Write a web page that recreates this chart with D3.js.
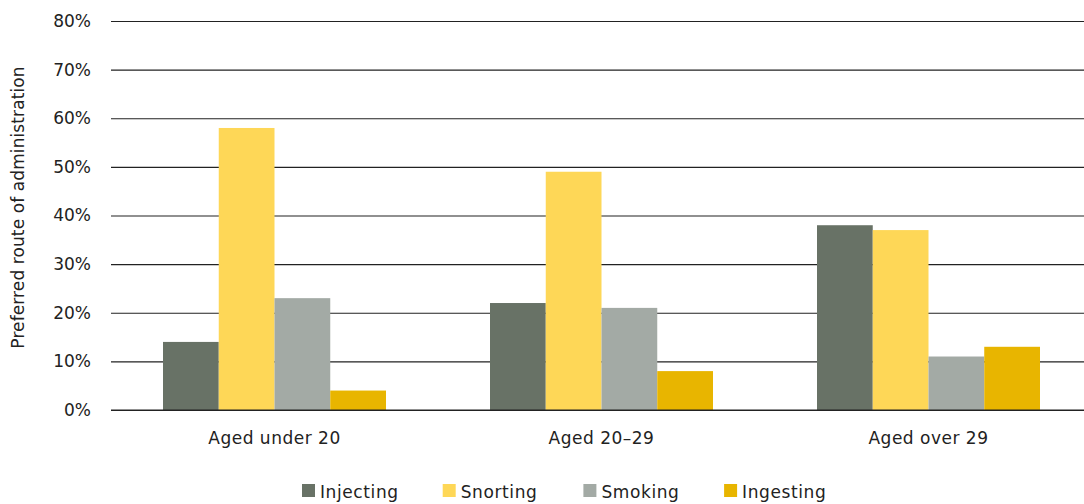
<!DOCTYPE html>
<html>
<head>
<meta charset="utf-8">
<script src="https://cdn.jsdelivr.net/npm/d3@7"></script>
<style>
  body { margin: 0; background: #fff; }
  text { font-family: "DejaVu Sans", sans-serif; fill: #222; }
</style>
</head>
<body>
<div id="wrapper"></div>
<script>
// data
const categories = ["Aged under 20", "Aged 20-29", "Aged over 29"];
const routes = ["Injecting", "Snorting", "Smoking", "Ingesting"];
const injecting = [14, 22, 38];
const snorting = [58, 49, 37];
const smoking = [23, 21, 11];
const ingesting = [4, 8, 13];
const yTicks = [0, 10, 20, 30, 40, 50, 60, 70, 80];
const colors = ["#687266", "#fed757", "#a3aaa5", "#e8b500"];

const seriesValues = [injecting, snorting, smoking, ingesting];
const rows = categories.map((c, i) => ({
  category: c,
  values: routes.map((r, j) => ({ route: r, value: seriesValues[j][i] }))
}));

// dimensions
const dimensions = {
  width: 1084,
  height: 504,
  margin: { top: 21, right: 0, bottom: 94, left: 111 },
};
dimensions.boundHeight = dimensions.height - dimensions.margin.top - dimensions.margin.bottom;

const svg = d3.select('#wrapper')
  .append('svg')
  .attr('width', dimensions.width)
  .attr('height', dimensions.height);

// scales
const xScale = d3.scaleBand()
  .domain(categories)
  .range([dimensions.margin.left, dimensions.margin.left + 327 * 3]);
const innerScale = d3.scaleBand()
  .domain(routes)
  .range([0, 223]);
const yScale = d3.scaleLinear()
  .domain([0, 80])
  .range([dimensions.margin.top + dimensions.boundHeight, dimensions.margin.top]);
const colorScale = d3.scaleOrdinal().domain(routes).range(colors);

// gridlines + tick labels
const yAxis = svg.append('g')
  .attr('transform', `translate(${dimensions.margin.left},0)`)
  .call(d3.axisLeft(yScale)
    .tickValues(yTicks)
    .tickFormat(d => d + '%')
    .tickSize(-(dimensions.width - dimensions.margin.left))
    .tickPadding(20));
yAxis.select('.domain').remove();
yAxis.selectAll('.tick line').attr('stroke', '#222').attr('stroke-width', 1.2);
yAxis.selectAll('.tick text')
  .style('font-size', '17px')
  .attr('fill', '#222');

// bars
const groups = svg.selectAll('g.group')
  .data(rows)
  .join('g')
  .attr('class', 'group')
  .attr('transform', d => `translate(${xScale(d.category) + (xScale.bandwidth() - 223) / 2},0)`);

groups.selectAll('rect')
  .data(d => d.values)
  .join('rect')
  .attr('x', d => innerScale(d.route))
  .attr('width', innerScale.bandwidth())
  .attr('y', d => yScale(d.value))
  .attr('height', d => yScale(0) - yScale(d.value))
  .attr('fill', d => colorScale(d.route));

// redraw baseline over bars
svg.append('line')
  .attr('x1', dimensions.margin.left)
  .attr('x2', dimensions.width)
  .attr('y1', yScale(0))
  .attr('y2', yScale(0))
  .attr('stroke', '#222')
  .attr('stroke-width', 1.2);

// category labels
svg.append('g')
  .selectAll('text')
  .data(categories)
  .join('text')
  .attr('x', d => xScale(d) + xScale.bandwidth() / 2)
  .attr('y', 444)
  .attr('text-anchor', 'middle')
  .style('font-size', '17px')
  .style('letter-spacing', '0.5px')
  .text(d => d === "Aged 20-29" ? "Aged 20\u201329" : d);

// y axis label
svg.append('text')
  .attr('transform', `translate(24, ${yScale(40) - 8}) rotate(-90)`)
  .attr('text-anchor', 'middle')
  .style('font-size', '17px')
  .style('letter-spacing', '0.1px')
  .text('Preferred route of administration');

// legend
const legend = svg.append('g')
  .selectAll('g')
  .data(routes)
  .join('g')
  .attr('transform', (d, i) => `translate(${302 + i * 140.7},484)`);
legend.append('rect')
  .attr('width', 13)
  .attr('height', 13)
  .attr('fill', d => colorScale(d));
legend.append('text')
  .attr('x', 18)
  .attr('y', 13.5)
  .style('font-size', '17px')
  .style('letter-spacing', '0.6px')
  .text(d => d);
</script>
</body>
</html>
